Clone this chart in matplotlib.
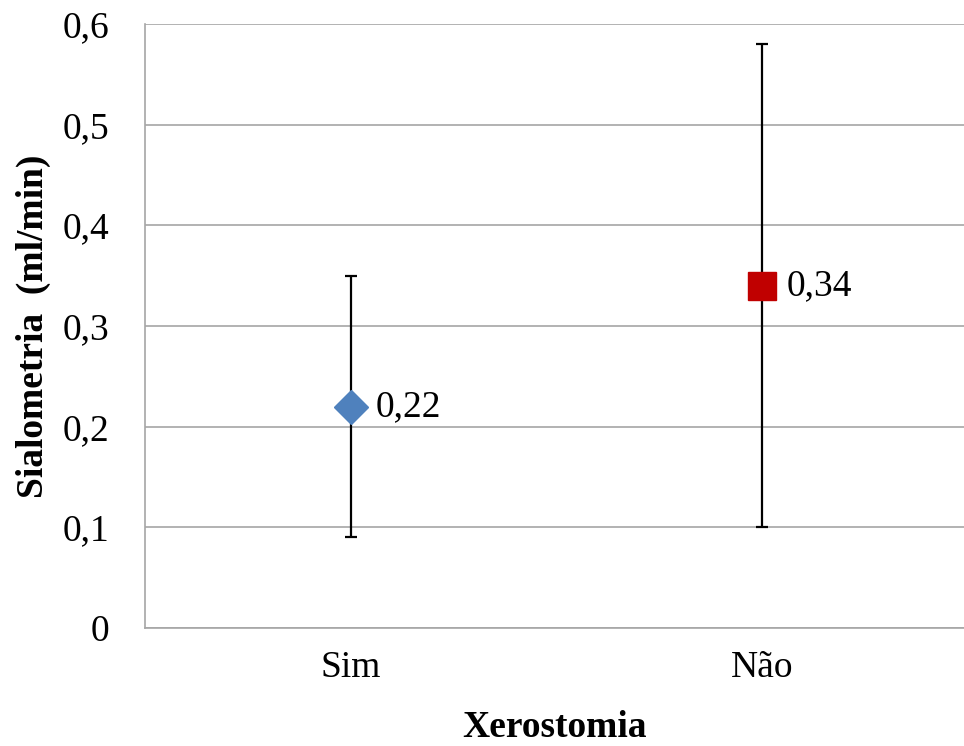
import matplotlib.pyplot as plt

# ===== data =====
categories = ["Sim", "Não"]
means = [0.22, 0.34]
lower = [0.09, 0.10]
upper = [0.35, 0.58]
labels = ["0,22", "0,34"]
markers = ["D", "s"]
colors = ["#4F81BD", "#C00000"]
yticks = [0, 0.1, 0.2, 0.3, 0.4, 0.5, 0.6]
ytick_labels = ["0", "0,1", "0,2", "0,3", "0,4", "0,5", "0,6"]

plt.rcParams["font.family"] = ["Liberation Serif", "DejaVu Serif"]

fig = plt.figure(figsize=(9.64, 7.46), dpi=100)
ax = fig.add_axes([145 / 964, 1 - 628 / 746, 1 - 145 / 964, (628 - 24) / 746])

for i, cat in enumerate(categories):
    ax.errorbar(i, means[i],
                yerr=[[means[i] - lower[i]], [upper[i] - means[i]]],
                fmt="none", ecolor="black", elinewidth=1.6, capsize=4, capthick=1.6, zorder=3)
    ax.plot(i, means[i], marker=markers[i], color=colors[i], linestyle="none",
            markersize=17 if markers[i] == "D" else 20, zorder=4)
    ax.text(i + 0.06, means[i], labels[i], fontsize=27, va="center", ha="left", zorder=5)

ax.set_xlim(-0.5, 1.49)
ax.set_ylim(0, 0.6)
ax.set_xticks(range(len(categories)))
ax.set_xticklabels(categories, fontsize=27)
ax.set_yticks(yticks)
ax.set_yticklabels(ytick_labels, fontsize=27)
ax.tick_params(axis="y", length=0, pad=26)
ax.tick_params(axis="x", length=0, pad=16)
ax.yaxis.grid(True, color="#A6A6A6", linewidth=1.2)
ax.set_axisbelow(True)
for side in ["top", "right"]:
    ax.spines[side].set_visible(False)
for side in ["left", "bottom"]:
    ax.spines[side].set_color("#A6A6A6")
    ax.spines[side].set_linewidth(1.2)

ax.set_xlabel("Xerostomia", fontsize=27, fontweight="bold", labelpad=18)
ax.set_ylabel("Sialometria  (ml/min)", fontsize=27, fontweight="bold", labelpad=8)

fig.savefig("out.png", dpi=100)
